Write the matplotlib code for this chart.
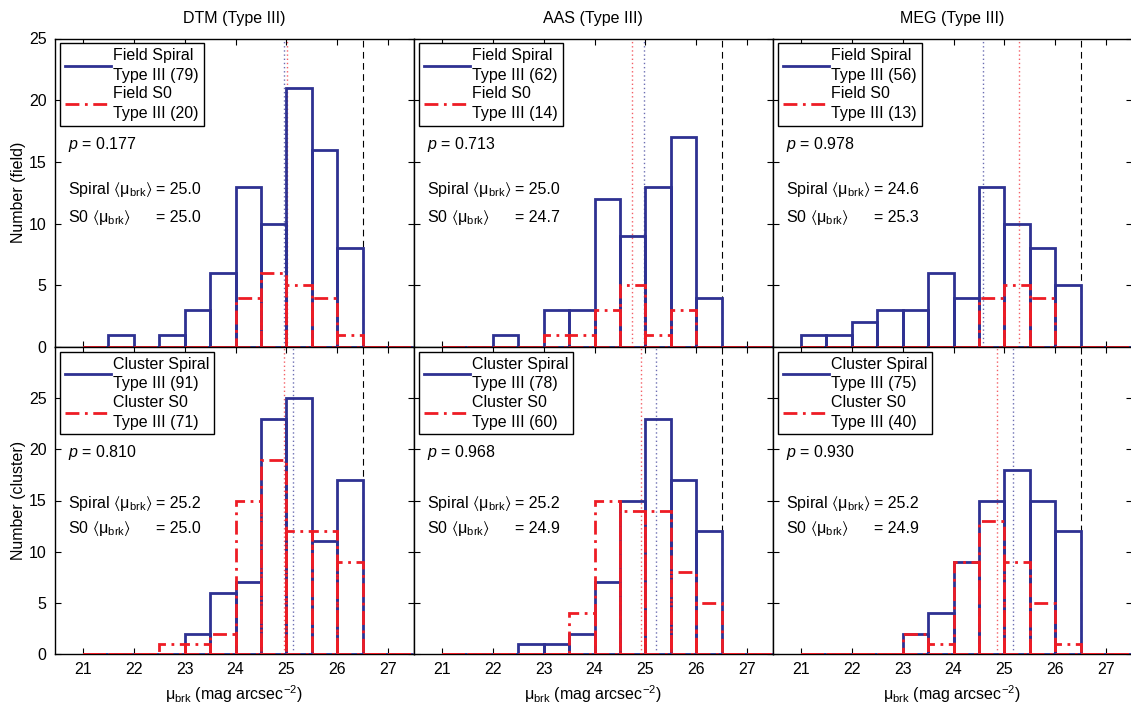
import numpy as np
import matplotlib
matplotlib.use('Agg')
import matplotlib.pyplot as plt

plt.rcParams['font.family'] = ['Liberation Sans', 'DejaVu Sans']
plt.rcParams['mathtext.fontset'] = 'custom'
plt.rcParams['mathtext.rm'] = 'Liberation Sans'
plt.rcParams['mathtext.it'] = 'Liberation Sans:italic'
plt.rcParams['mathtext.fallback'] = 'stixsans'
plt.rcParams['font.size'] = 11.5

# bin edges (0.5 mag wide)
edges = np.arange(21.0, 28.01, 0.5)

methods = ['DTM', 'AAS', 'MEG']

# counts per bin, bins 21.0-21.5 ... 27.5-28.0
field_spiral = [
    [0, 1, 0, 1, 3, 6, 13, 10, 21, 16, 8, 0, 0, 0],
    [0, 0, 1, 0, 3, 3, 12, 9, 13, 17, 4, 0, 0, 0],
    [1, 1, 2, 3, 3, 6, 4, 13, 10, 8, 5, 0, 0, 0],
]
field_s0 = [
    [0, 0, 0, 0, 0, 0, 4, 6, 5, 4, 1, 0, 0, 0],
    [0, 0, 0, 0, 1, 1, 3, 5, 1, 3, 0, 0, 0, 0],
    [0, 0, 0, 0, 0, 0, 0, 4, 5, 4, 0, 0, 0, 0],
]
cluster_spiral = [
    [0, 0, 0, 0, 2, 6, 7, 23, 25, 11, 17, 0, 0, 0],
    [0, 0, 0, 1, 1, 2, 7, 15, 23, 17, 12, 0, 0, 0],
    [0, 0, 0, 0, 2, 4, 9, 15, 18, 15, 12, 0, 0, 0],
]
cluster_s0 = [
    [0, 0, 0, 1, 1, 2, 15, 19, 12, 12, 9, 0, 0, 0],
    [0, 0, 0, 0, 0, 4, 15, 14, 14, 8, 5, 0, 0, 0],
    [0, 0, 0, 0, 2, 1, 9, 13, 9, 5, 1, 0, 0, 0],
]

field_n_spiral = [79, 62, 56]
field_n_s0 = [20, 14, 13]
cluster_n_spiral = [91, 78, 75]
cluster_n_s0 = [71, 60, 40]

field_p = ['0.177', '0.713', '0.978']
cluster_p = ['0.810', '0.968', '0.930']

field_mean_spiral = [24.96, 24.97, 24.57]
field_mean_s0 = [25.02, 24.73, 25.29]
cluster_mean_spiral = [25.14, 25.20, 25.16]
cluster_mean_s0 = [24.96, 24.91, 24.85]

field_txt_spiral = ['25.0', '25.0', '24.6']
field_txt_s0 = ['25.0', '24.7', '25.3']
cluster_txt_spiral = ['25.2', '25.2', '25.2']
cluster_txt_s0 = ['25.0', '24.9', '24.9']

break_limit = 26.5

blue = '#2E3192'
red = '#EE1C25'

fig = plt.figure(figsize=(11.31, 7.06), dpi=100)

W, H = 1131.0, 706.0
col_left = [55, 414, 773]
col_w = 358.5
rows = {'field': (38.5, 347.0), 'cluster': (347.0, 654.0)}

mu = r'$\langle$μ$_{\mathrm{brk}}\rangle$'


def panel(ax, sp, s0, nsp, ns0, pval, msp, ms0, tsp, ts0, env, ylim, ptxt_y):
    ax.bar(edges[:-1], sp, width=0.5, align='edge', fill=False,
           edgecolor=blue, linewidth=2.0, zorder=3)
    ax.bar(edges[:-1], s0, width=0.5, align='edge', fill=False,
           edgecolor=red, linewidth=2.0, linestyle=(0, (5, 2, 1, 2)), zorder=4)
    ax.axvline(msp, color=blue, lw=1.0, ls=(0, (1, 2)), alpha=0.7, zorder=2)
    ax.axvline(ms0, color=red, lw=1.0, ls=(0, (1, 2)), alpha=0.7, zorder=2)
    ax.axvline(break_limit, color='black', lw=0.8, ls=(0, (6, 4)), zorder=2)

    ax.plot([], [], color=blue, lw=2.0, label=f'{env} Spiral\nType III ({nsp})')
    ax.plot([], [], color=red, lw=2.0, ls=(0, (5, 2, 1, 2)),
            label=f'{env} S0\nType III ({ns0})')
    leg = ax.legend(loc='upper left', fontsize=11.5, handlelength=2.9,
                    handletextpad=0.15, borderpad=0.3, borderaxespad=0.3,
                    labelspacing=0.22, fancybox=False, framealpha=1)
    leg.get_frame().set_edgecolor('black')
    leg.get_frame().set_linewidth(1.0)
    for t in leg.get_texts():
        t.set_linespacing(1.4)

    y0, y1, y2 = ptxt_y
    ax.text(0.036, y0, r'$\it{p}$ = ' + pval, transform=ax.transAxes, va='center')
    ax.text(0.036, y1, 'Spiral ' + mu, transform=ax.transAxes, va='center')
    ax.text(0.283, y1, '= ' + tsp, transform=ax.transAxes, va='center')
    ax.text(0.036, y2, 'S0 ' + mu, transform=ax.transAxes, va='center')
    ax.text(0.283, y2, '= ' + ts0, transform=ax.transAxes, va='center')

    ax.set_xlim(20.45, 27.5)
    ax.set_ylim(*ylim)
    ax.set_xticks(range(21, 28))
    ax.set_yticks(range(0, 26, 5))
    ax.tick_params(direction='in', top=True, right=True, length=4, width=0.8,
                   labelsize=11.5, pad=6)
    for s in ax.spines.values():
        s.set_linewidth(1.0)


for i, m in enumerate(methods):
    for env, (top, bot) in rows.items():
        ax = fig.add_axes([col_left[i] / W, (H - bot) / H, col_w / W, (bot - top) / H])
        if env == 'field':
            panel(ax, field_spiral[i], field_s0[i], field_n_spiral[i], field_n_s0[i],
                  field_p[i], field_mean_spiral[i], field_mean_s0[i],
                  field_txt_spiral[i], field_txt_s0[i], 'Field', (0, 25),
                  (0.655, 0.51, 0.42))
            ax.set_title(f'{m} (Type III)', fontsize=11.5, pad=11)
            ax.set_xticklabels([])
            if i == 0:
                ax.set_ylabel('Number (field)', labelpad=2)
        else:
            panel(ax, cluster_spiral[i], cluster_s0[i], cluster_n_spiral[i],
                  cluster_n_s0[i], cluster_p[i], cluster_mean_spiral[i],
                  cluster_mean_s0[i], cluster_txt_spiral[i], cluster_txt_s0[i],
                  'Cluster', (0, 30), (0.655, 0.49, 0.41))
            ax.set_xlabel(r'μ$_{\mathrm{brk}}$ (mag arcsec$^{-2}$)')
            if i == 0:
                ax.set_ylabel('Number (cluster)', labelpad=2)
        if i > 0:
            ax.set_yticklabels([])

fig.savefig('out.png', dpi=100)
